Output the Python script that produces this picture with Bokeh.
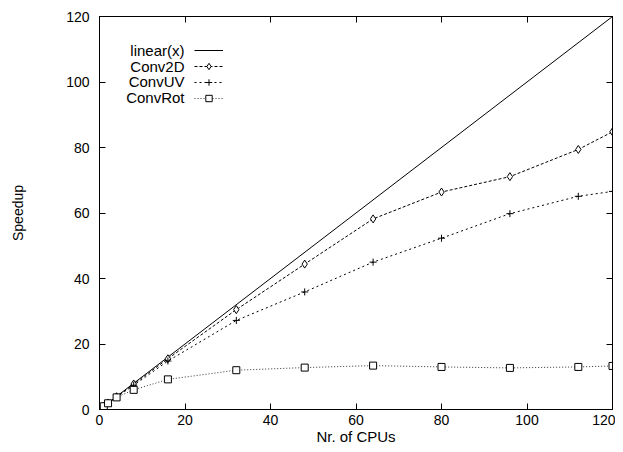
from bokeh.plotting import figure
from bokeh.models import (Range1d, LinearAxis, FixedTicker, Legend, LegendItem, Label)
from bokeh.embed import file_html
from bokeh.resources import INLINE

# ---- data ----
cpus = [1, 2, 4, 8, 16, 32, 48, 64, 80, 96, 112, 120]
conv2d = [1.0, 2.0, 3.9, 7.8, 15.5, 30.5, 44.4, 58.2, 66.4, 71.1, 79.4, 84.8]
convuv = [1.0, 1.9, 3.8, 7.4, 14.8, 27.2, 35.9, 45.0, 52.3, 59.8, 65.1, 66.6]
convrot = [1.0, 1.9, 3.7, 6.0, 9.2, 12.0, 12.8, 13.4, 13.0, 12.7, 13.0, 13.3]
linear_x = [0, 120]
linear_y = [0, 120]
ticks = [0, 20, 40, 60, 80, 100, 120]
series_names = ["linear(x)", "Conv2D", "ConvUV", "ConvRot"]

FONT = "Liberation Sans"

p = figure(frame_width=513, frame_height=393, output_backend="svg",
           toolbar_location=None, x_range=Range1d(0, 120), y_range=Range1d(0, 120),
           min_border_left=99, min_border_right=3, min_border_top=16, min_border_bottom=30,
           x_axis_label="Nr. of CPUs", y_axis_label="Speedup")
p.outline_line_color = "black"
p.outline_line_width = 1
p.grid.visible = False
p.background_fill_color = "white"
p.border_fill_color = "white"

for ax in (p.xaxis[0], p.yaxis[0]):
    ax.ticker = FixedTicker(ticks=ticks)
    ax.major_tick_in = 6
    ax.major_tick_out = 0
    ax.minor_tick_line_color = None
    ax.axis_line_color = "black"
    ax.major_label_text_font = FONT
    ax.major_label_text_font_size = "14px"
    ax.major_label_text_color = "black"
    ax.axis_label_text_font = FONT
    ax.axis_label_text_font_style = "normal"
    ax.axis_label_text_color = "black"
p.xaxis[0].axis_label_text_font_size = "15px"
p.yaxis[0].axis_label_text_font_size = "14px"
p.xaxis[0].major_label_standoff = 5
p.xaxis[0].axis_label_standoff = 0
p.yaxis[0].major_label_standoff = 10
p.yaxis[0].axis_label_standoff = 37

# mirror ticks (no labels)
for loc in ("above", "right"):
    ax = LinearAxis(ticker=FixedTicker(ticks=ticks), major_tick_in=6, major_tick_out=0,
                    minor_tick_line_color=None, major_label_text_font_size="0px",
                    major_label_text_color=None,
                    major_label_standoff=0, axis_line_color="black")
    p.add_layout(ax, loc)

lin = p.line(linear_x, linear_y, line_color="black", line_width=1)

l2 = p.line(cpus, conv2d, line_color="black", line_width=1, line_dash="3 2")
m2 = p.scatter(cpus, conv2d, marker="diamond", size=8,
               fill_color="white", line_color="black", line_width=1)

luv = p.line(cpus, convuv, line_color="black", line_width=1, line_dash="2 3")
muv = p.scatter(cpus, convuv, marker="cross", size=7, line_color="black", line_width=1)

lrot = p.line(cpus, convrot, line_color="#333333", line_width=1, line_dash="1 2")
mrot = p.scatter(cpus, convrot, marker="square", size=7, fill_color="white",
                 line_color="black", line_width=1)

legend = Legend(items=[
    LegendItem(label=" ", renderers=[lin]),
    LegendItem(label=" ", renderers=[l2, m2]),
    LegendItem(label=" ", renderers=[luv, muv]),
    LegendItem(label=" ", renderers=[lrot, mrot]),
], location=(95, 303), padding=0, margin=0, spacing=0, glyph_width=29, glyph_height=16,
    label_height=16, label_width=0, label_standoff=0, border_line_color=None,
    background_fill_alpha=0, label_text_font_size="0px", label_text_color=None)
p.add_layout(legend)

row_y = [359.5, 343.5, 328, 312.5]
for name, yy in zip(series_names, row_y):
    p.add_layout(Label(x=85, y=yy, x_units="screen", y_units="screen", text=name,
                       text_align="right", text_baseline="middle", text_font=FONT,
                       text_font_size="15px", text_color="black"))

open("out.html", "w").write(file_html(p, INLINE))
